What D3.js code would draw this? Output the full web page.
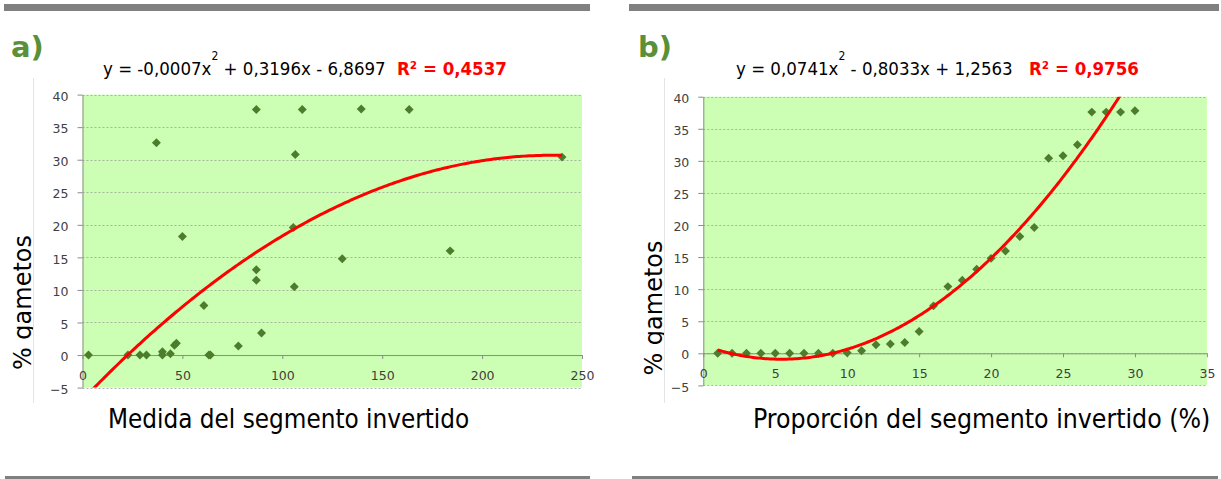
<!DOCTYPE html>
<html>
<head>
<meta charset="utf-8">
<script src="https://cdn.jsdelivr.net/npm/d3@7"></script>
<style>
  body { margin: 0; background: #fff; }
  .grid { stroke: #a0a0a0; stroke-dasharray: 2,2; stroke-opacity: 0.8; }
  .eq { font-family: "DejaVu Sans Condensed", "DejaVu Sans", sans-serif; font-stretch: condensed; font-size: 18.5px; fill: #000; }
  .r2 { font-family: "DejaVu Sans Condensed", "DejaVu Sans", sans-serif; font-stretch: condensed; font-weight: bold; font-size: 18.5px; fill: #ff0000; }
  .panel-label { font-family: "DejaVu Sans", sans-serif; font-weight: bold; font-size: 29px; fill: #5a9038; }
  .x-title { font-family: "DejaVu Sans Condensed", "DejaVu Sans", sans-serif; font-stretch: condensed; fill: #000; }
  .y-title { font-family: "DejaVu Sans", sans-serif; font-size: 24px; fill: #000; }
</style>
</head>
<body>
<div id="environment"></div>
<script>
"use strict";

// a) medida del segmento invertido vs % gametos
var segmentLength = [3, 22.75, 28.75, 32, 37, 40, 40, 44, 46, 47, 50, 60.75, 63.25, 64, 78, 87, 87, 87,
  89.6, 105.5, 106, 106.5, 110, 130, 139.5, 163.5, 184, 240];
var gametesA = [0, 0, 0, 0, 32.6, 0.5, 0, 0.2, 1.5, 1.8, 18.2, 7.6, 0, 0, 1.4, 13.1, 11.5, 37.7,
  3.4, 19.6, 10.5, 30.8, 37.7, 14.8, 37.8, 37.7, 16, 30.4];

// b) proporcion del segmento invertido (%) vs % gametos
var segmentProportion = [1, 2, 3, 4, 5, 6, 7, 8, 9, 10, 11, 12, 13, 14, 15, 16, 17, 18, 19, 20,
  21, 22, 23, 24, 25, 26, 27, 28, 29, 30];
var gametesB = [0, 0, 0, 0, 0, 0, 0, 0, 0, 0.1, 0.4, 1.35, 1.45, 1.7, 3.4, 7.4, 10.4, 11.4, 13.1, 14.8,
  15.95, 18.2, 19.6, 30.4, 30.8, 32.5, 37.6, 37.6, 37.6, 37.8];

// polynomial trend lines, [x^2, x, 1]
var trendA = [-0.00068, 0.3196, -6.8697];
var trendB = [0.0741, -0.8033, 1.2563];

// axes
var yTicks = [-5, 0, 5, 10, 15, 20, 25, 30, 35, 40];
var xTicksA = [0, 50, 100, 150, 200, 250];
var xTicksB = [0, 5, 10, 15, 20, 25, 30, 35];

// texts
var equationA = ["y = -0,0007x", "2", "\u00a0+ 0,3196x - 6,8697"];
var equationB = ["y = 0,0741x", "2", "\u00a0- 0,8033x + 1,2563"];
var r2A = "R\u00b2 = 0,4537";
var r2B = "R\u00b2 = 0,9756";
var xTitleA = "Medida del segmento invertido";
var xTitleB = "Proporción del segmento invertido (%)";
var yTitle = "% gametos";

var svg;
var w = 1221,
  h = 479;

/**
 * Create the svg and the grey separator bars.
 */
var initEnvironment = function () {
  svg = d3.select("#environment").append("svg").attr("width", w).attr("height", h);
  svg.append("rect").attr("width", w).attr("height", h).attr("fill", "#fff");

  [[4, 586], [629, 590]].forEach(function (b) {
    svg.append("rect").attr("x", b[0]).attr("y", 4).attr("width", b[1]).attr("height", 7).attr("fill", "#808080");
  });
  [[5, 585], [632, 586]].forEach(function (b) {
    svg.append("rect").attr("x", b[0]).attr("y", 476).attr("width", b[1]).attr("height", 4).attr("fill", "#808080");
  });
};

/**
 * Grey axis lines and dark tick labels, Excel style.
 */
var styleAxis = function (sel) {
  sel.attr("font-family", "'DejaVu Sans', sans-serif").attr("font-size", 12.5);
  sel.selectAll(".domain, .tick line").attr("stroke", "#8c8c8c");
  sel.selectAll(".tick text").attr("fill", "#404040");
};

/**
 * Draw one scatter panel with its trend line.
 * @param p - layout and data of the panel
 */
var drawPanel = function (p) {
  var x = d3.scaleLinear().domain(p.xDomain).range(p.xRange);
  var y = d3.scaleLinear().domain([-5, 40]).range(p.yRange);
  var g = svg.append("g");

  // chart border line on the left
  g.append("line")
    .attr("x1", p.border + 0.5).attr("x2", p.border + 0.5)
    .attr("y1", 78).attr("y2", 403)
    .attr("stroke", "#e4e4e4");

  // plot area
  g.append("rect")
    .attr("x", x(p.xDomain[0])).attr("y", y(40))
    .attr("width", x(p.xDomain[1]) - x(p.xDomain[0]))
    .attr("height", y(-5) - y(40))
    .attr("fill", "#ccffb3");

  g.selectAll("line.grid").data(yTicks).enter().append("line")
    .attr("class", "grid")
    .attr("x1", x(p.xDomain[0])).attr("x2", x(p.xDomain[1]))
    .attr("y1", function (d) { return Math.round(y(d)) + 0.5; })
    .attr("y2", function (d) { return Math.round(y(d)) + 0.5; });

  // axes
  var yAxis = g.append("g")
    .attr("transform", "translate(" + x(p.xDomain[0]) + ",0)")
    .call(d3.axisLeft(y).tickValues(yTicks).tickSize(5).tickSizeOuter(0).tickPadding(9));
  yAxis.selectAll("text").attr("dy", "0.45em");
  styleAxis(yAxis);

  var xAxis = g.append("g")
    .attr("transform", "translate(0," + y(0) + ")")
    .call(d3.axisBottom(x).tickValues(p.xTicks).tickSize(4).tickSizeOuter(0).tickPadding(12));
  styleAxis(xAxis);

  // trend line, clipped to the plot area
  var clipId = "clip" + p.name;
  svg.append("clipPath").attr("id", clipId).append("rect")
    .attr("x", x(p.xDomain[0])).attr("y", y(40))
    .attr("width", x(p.xDomain[1]) - x(p.xDomain[0]))
    .attr("height", y(-5) - y(40));

  var xs = p.xValues;
  var x0 = d3.min(xs), x1 = d3.max(xs);
  var curve = d3.range(0, 201).map(function (i) {
    var xv = x0 + (x1 - x0) * i / 200;
    return [xv, p.trend[0] * xv * xv + p.trend[1] * xv + p.trend[2]];
  });

  // markers
  g.selectAll("path.pt").data(xs).enter().append("path")
    .attr("class", "pt")
    .attr("d", d3.symbol().type(d3.symbolSquare).size(40))
    .attr("fill", "#4d7c2c")
    .attr("transform", function (d, i) {
      return "translate(" + x(d) + "," + y(p.yValues[i]) + ") rotate(45)";
    });

  g.append("path")
    .datum(curve)
    .attr("clip-path", "url(#" + clipId + ")")
    .attr("fill", "none")
    .attr("stroke", "#ff0000")
    .attr("stroke-width", 3)
    .attr("d", d3.line().x(function (d) { return x(d[0]); }).y(function (d) { return y(d[1]); }));

  // panel label and equation
  g.append("text").attr("class", "panel-label").attr("x", p.labelX).attr("y", 57).text(p.label);

  var eq = g.append("text").attr("class", "eq").attr("x", p.eqX).attr("y", 75);
  eq.append("tspan").text(p.equation[0]);
  eq.append("tspan").attr("dy", -15).attr("font-size", "12px").text(p.equation[1]);
  eq.append("tspan").attr("dy", 15).text(p.equation[2]);

  g.append("text").attr("class", "r2").attr("x", p.r2X).attr("y", 75).text(p.r2);

  // axis titles
  g.append("text").attr("class", "x-title")
    .attr("x", p.xTitleX).attr("y", 428)
    .attr("font-size", p.xTitleSize)
    .text(p.xTitle);

  // the descenders of the y title are cut by the chart border
  var yClip = "yclip" + p.name;
  svg.append("clipPath").attr("id", yClip).append("rect")
    .attr("x", p.border - 40).attr("y", 200).attr("width", 40).attr("height", 200);
  g.append("g")
    .attr("clip-path", "url(#" + yClip + ")")
    .append("text")
    .attr("class", "y-title")
    .attr("text-anchor", "middle")
    .attr("transform", "translate(" + p.yTitlePos[0] + "," + p.yTitlePos[1] + ") rotate(-90)")
    .text(yTitle);
};

initEnvironment();

drawPanel({
  name: "a",
  xValues: segmentLength,
  yValues: gametesA,
  trend: trendA,
  xDomain: [0, 250],
  xRange: [82.5, 582],
  yRange: [387.6, 94.6],
  xTicks: xTicksA,
  border: 33,
  label: "a)",
  labelX: 11,
  equation: equationA,
  eqX: 103,
  r2: r2A,
  r2X: 397,
  xTitle: xTitleA,
  xTitleX: 108,
  xTitleSize: 25.8,
  yTitlePos: [31, 302.5]
});

drawPanel({
  name: "b",
  xValues: segmentProportion,
  yValues: gametesB,
  trend: trendB,
  xDomain: [0, 35],
  xRange: [703.3, 1206.9],
  yRange: [385.4, 96.7],
  xTicks: xTicksB,
  border: 664,
  label: "b)",
  labelX: 638,
  equation: equationB,
  eqX: 736,
  r2: r2B,
  r2X: 1029,
  xTitle: xTitleB,
  xTitleX: 753,
  xTitleSize: 26.4,
  yTitlePos: [662, 308]
});
</script>
</body>
</html>
